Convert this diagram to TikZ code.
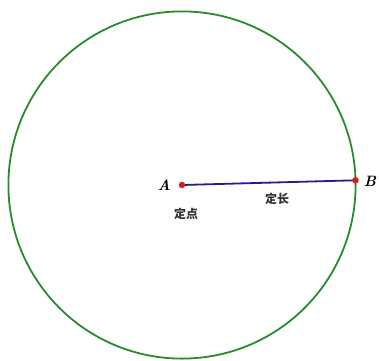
\documentclass[tikz,border=0pt]{standalone}
\usepackage{fontspec}
\newfontfamily\cjk{Noto Sans CJK SC}
\definecolor{circgreen}{RGB}{40,140,45}
\definecolor{radblue}{RGB}{35,30,140}
\definecolor{ptred}{RGB}{210,30,30}
\tikzset{
  pt/.style={circle, fill=ptred, inner sep=0pt, minimum size=6.5pt},
  ptlabel/.style={font=\fontsize{15}{17}\selectfont\bfseries\itshape},
  cjklabel/.style={font=\cjk\bfseries\fontsize{12}{14}\selectfont, text=black!80}
}

\begin{document}
\begin{tikzpicture}[x=1pt, y=1pt]
    \useasboundingbox (0,0) rectangle (379,360);
    \coordinate (a) at (182, 175);
    \coordinate (b) at (355.5, 179.7);
    \draw[circgreen, line width=1.8pt] (a) circle (173.6);
    \draw[radblue, line width=1.8pt] (a) -- (b);
    \node[pt] (pa) at (a) {};
    \node[pt] (pb) at (b) {};
    \node[ptlabel] (la) at (164, 175) {A};
    \node[ptlabel] (lb) at (370, 179) {B};
    \node[cjklabel] (fixpt) at (186, 146) {定点};
    \node[cjklabel] (fixlen) at (277, 161) {定长};
  \end{tikzpicture}
\end{document}
